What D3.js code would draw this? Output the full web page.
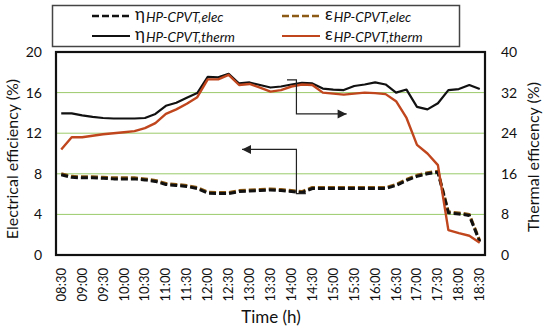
<!DOCTYPE html>
<html>
<head>
<meta charset="utf-8">
<style>
    body { margin: 0; background: white; }
    svg { font-family: Lato, "Open Sans", "DejaVu Sans", sans-serif; }
    .tick-label { font-size: 14px; fill: #111; }
    .x-label { font-size: 13px; fill: #111; }
    .axis-title { font-size: 16px; fill: #111; }
</style>
</head>
<body>
<svg width="550" height="331"></svg>

<script src="https://d3js.org/d3.v7.min.js"></script>
<script>
    // time steps, 15 min apart (Excel category axis, every 2nd one is labelled)
    let times = ['08:30', '08:45', '09:00', '09:15', '09:30', '09:45', '10:00', '10:15', '10:30', '10:45',
        '11:00', '11:15', '11:30', '11:45', '12:00', '12:15', '12:30', '12:45', '13:00', '13:15',
        '13:30', '13:45', '14:00', '14:15', '14:30', '14:45', '15:00', '15:15', '15:30', '15:45',
        '16:00', '16:15', '16:30', '16:45', '17:00', '17:15', '17:30', '17:45', '18:00', '18:15', '18:30']

    let tickTimes = ['08:30', '09:00', '09:30', '10:00', '10:30', '11:00', '11:30', '12:00', '12:30', '13:00',
        '13:30', '14:00', '14:30', '15:00', '15:30', '16:00', '16:30', '17:00', '17:30', '18:00', '18:30']

    // electrical efficiency (%), left axis
    let etaElec = [7.9, 7.65, 7.6, 7.6, 7.55, 7.5, 7.5, 7.5, 7.4, 7.25,
        6.95, 6.85, 6.75, 6.55, 6.1, 6.05, 6.05, 6.25, 6.3, 6.35,
        6.4, 6.35, 6.25, 6.15, 6.55, 6.55, 6.55, 6.55, 6.55, 6.55,
        6.55, 6.55, 6.85, 7.35, 7.75, 8.0, 8.15, 4.15, 4.05, 3.9, 1.3]
    let epsElec = [8.0, 7.75, 7.7, 7.7, 7.65, 7.6, 7.6, 7.6, 7.5, 7.35,
        7.05, 6.95, 6.85, 6.65, 6.2, 6.15, 6.15, 6.35, 6.4, 6.45,
        6.5, 6.45, 6.35, 6.25, 6.65, 6.65, 6.65, 6.65, 6.65, 6.65,
        6.65, 6.65, 6.95, 7.45, 7.85, 8.1, 8.25, 4.25, 4.15, 4.0, 1.4]

    // thermal efficiency (%), right axis
    let etaTherm = [27.9, 27.9, 27.5, 27.2, 27.0, 26.9, 26.9, 26.9, 27.0, 27.8,
        29.4, 30.0, 31.0, 31.9, 35.1, 35.0, 35.7, 33.8, 34.0, 33.5,
        33.0, 33.2, 33.6, 33.9, 33.8, 32.8, 32.6, 32.5, 33.3, 33.6,
        34.0, 33.6, 32.0, 32.6, 29.2, 28.7, 29.9, 32.5, 32.7, 33.5, 32.7]
    let epsTherm = [20.8, 23.2, 23.2, 23.5, 23.8, 24.0, 24.2, 24.4, 25.0, 26.0,
        27.8, 28.7, 29.8, 31.1, 34.6, 34.6, 35.5, 33.5, 33.7, 33.0,
        32.2, 32.5, 33.2, 33.6, 33.5, 32.0, 31.8, 31.6, 31.8, 32.0,
        31.9, 31.7, 30.3, 27.0, 21.7, 20.0, 17.7, 4.9, 4.3, 3.8, 2.4]

    let elecTicks = [0, 4, 8, 12, 16, 20]
    let thermTicks = [0, 8, 16, 24, 32, 40]

    let svg = d3.select("svg")

    let plotLeft = 56, plotRight = 485, plotTop = 52, plotBottom = 255

    let x = d3.scalePoint()
        .domain(times)
        .range([plotLeft, plotRight])
        .padding(0.5)

    let yElec = d3.scaleLinear().domain([0, 20]).range([plotBottom, plotTop])
    let yTherm = d3.scaleLinear().domain([0, 40]).range([plotBottom, plotTop])

    // gridlines
    svg.append("g")
        .selectAll("line")
        .data(elecTicks.slice(1, -1))
        .join("line")
        .attr("x1", plotLeft)
        .attr("x2", plotRight)
        .attr("y1", d => yElec(d))
        .attr("y2", d => yElec(d))
        .style("stroke", "#9BCB6B")
        .style("stroke-width", 1)

    // left axis labels
    svg.append("g")
        .selectAll("text")
        .data(elecTicks)
        .join("text")
        .attr("class", "tick-label")
        .attr("x", 42)
        .attr("y", d => yElec(d))
        .attr("dy", "0.35em")
        .attr("text-anchor", "end")
        .text(d => d)

    // right axis labels
    svg.append("g")
        .selectAll("text")
        .data(thermTicks)
        .join("text")
        .attr("class", "tick-label")
        .attr("x", 501)
        .attr("y", d => yTherm(d))
        .attr("dy", "0.35em")
        .attr("text-anchor", "start")
        .text(d => d)

    // x labels, rotated
    svg.append("g")
        .selectAll("text")
        .data(tickTimes)
        .join("text")
        .attr("class", "x-label")
        .attr("transform", d => "translate(" + (x(d) + 4.5) + ",268) rotate(-90)")
        .attr("text-anchor", "end")
        .text(d => d)

    // axis titles
    svg.append("text")
        .attr("class", "axis-title")
        .attr("transform", "translate(18,159) rotate(-90)")
        .attr("text-anchor", "middle")
        .text("Electrical efficiency (%)")

    svg.append("text")
        .attr("class", "axis-title")
        .attr("transform", "translate(539,157) rotate(-90)")
        .attr("text-anchor", "middle")
        .text("Thermal efficency (%)")

    svg.append("text")
        .attr("class", "axis-title")
        .style("font-size", "17px")
        .attr("x", 271)
        .attr("y", 323)
        .attr("text-anchor", "middle")
        .text("Time (h)")

    // series
    let lineElec = d3.line()
        .x((d, i) => x(times[i]))
        .y(d => yElec(d))
    let lineTherm = d3.line()
        .x((d, i) => x(times[i]))
        .y(d => yTherm(d))

    let series = [
        { data: epsElec, line: lineElec, color: '#8C5A14', width: 3, dash: '7,3' },
        { data: etaElec, line: lineElec, color: '#111', width: 3, dash: '7,3' },
        { data: etaTherm, line: lineTherm, color: '#111', width: 2.2, dash: null },
        { data: epsTherm, line: lineTherm, color: '#C0461E', width: 2.4, dash: null }
    ]

    series.forEach(s => {
        svg.append("path")
            .datum(s.data)
            .attr("d", s.line)
            .style("fill", "none")
            .style("stroke", s.color)
            .style("stroke-width", s.width)
            .style("stroke-dasharray", s.dash)
            .style("stroke-linejoin", "round")
    })

    // arrows pointing to each axis (positions in data units)
    let arrowColor = '#222'
    let thermArrow = [['14:00', 34.5, -0.9], ['14:00', 34.5, 0], ['14:00', 27.8, 0], ['15:15', 27.8, -0.2]]
    let elecArrow = [['14:00', 6.05, 0.9], ['14:00', 6.05, 0], ['14:00', 10.4, 0], ['12:30', 10.4, 0.8]]

    function drawArrow(pts, yScale, dir) {
        let step = x.step()
        let p = pts.map(d => [x(d[0]) + 5 + d[2] * step, yScale(d[1])])
        svg.append("path")
            .attr("d", d3.line()(p))
            .style("fill", "none")
            .style("stroke", arrowColor)
            .style("stroke-width", 1.2)
        let tip = p[p.length - 1]
        let head = [[tip[0], tip[1]], [tip[0] - dir * 9, tip[1] - 4.5], [tip[0] - dir * 9, tip[1] + 4.5]]
        svg.append("path")
            .attr("d", d3.line()(head) + "Z")
            .style("fill", arrowColor)
    }
    drawArrow(thermArrow, yTherm, 1)
    drawArrow(elecArrow, yElec, -1)

    // plot frame
    svg.append("rect")
        .attr("x", plotLeft)
        .attr("y", plotTop)
        .attr("width", plotRight - plotLeft)
        .attr("height", plotBottom - plotTop)
        .style("fill", "none")
        .style("stroke", "#111")
        .style("stroke-width", 2.2)

    // legend
    let legend = svg.append("g")
    legend.append("rect")
        .attr("x", 52.5)
        .attr("y", 5.5)
        .attr("width", 407)
        .attr("height", 41)
        .style("fill", "white")
        .style("stroke", "#444")
        .style("stroke-width", 1.5)

    let legendItems = [
        { sym: 'η', sub: 'HP-CPVT,elec', color: '#111', dash: '7,3', lx: 92, row: 0 },
        { sym: 'ε', sub: 'HP-CPVT,elec', color: '#8C5A14', dash: '7,3', lx: 282, row: 0 },
        { sym: 'η', sub: 'HP-CPVT,therm', color: '#111', dash: null, lx: 92, row: 1 },
        { sym: 'ε', sub: 'HP-CPVT,therm', color: '#C0461E', dash: null, lx: 282, row: 1 }
    ]

    legendItems.forEach(d => {
        let ly = 16 + d.row * 20
        legend.append("line")
            .attr("x1", d.lx)
            .attr("x2", d.lx + 38)
            .attr("y1", ly)
            .attr("y2", ly)
            .style("stroke", d.color)
            .style("stroke-width", d.dash ? 2.6 : 2.2)
            .style("stroke-dasharray", d.dash)
        let sym = legend.append("text")
            .attr("x", d.lx + 43)
            .attr("y", ly + 4)
            .style("font-size", "17px")
            .style("fill", "#111")
            .text(d.sym)
        let w = sym.node().getComputedTextLength()
        legend.append("text")
            .attr("x", d.lx + 43 + w + 1)
            .attr("y", ly + 6)
            .style("font-size", "13.5px")
            .style("font-style", "italic")
            .style("fill", "#111")
            .text(d.sub)
    })
</script>
</body>
</html>
